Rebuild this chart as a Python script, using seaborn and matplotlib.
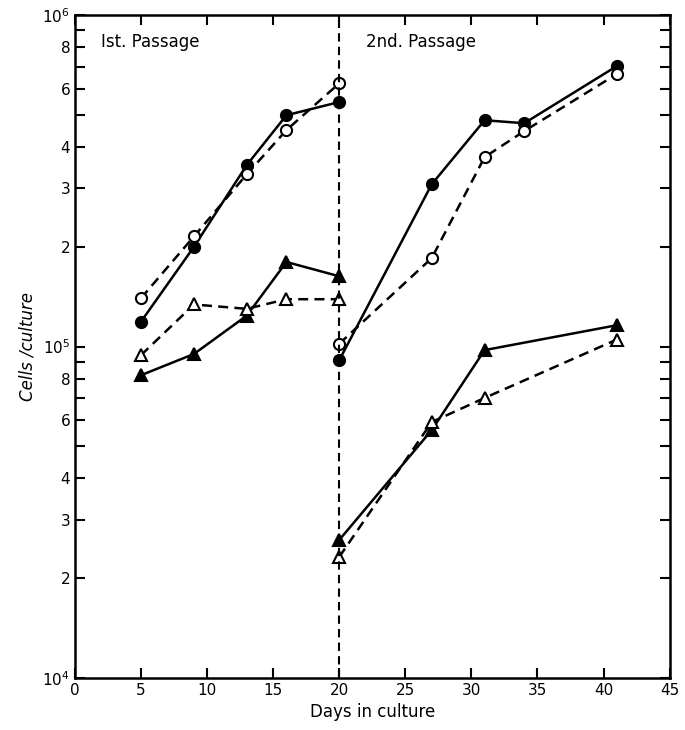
import matplotlib
matplotlib.use("Agg")
import matplotlib.pyplot as plt
import seaborn as sns
import pandas as pd
import numpy as np
from matplotlib.ticker import FixedLocator, FixedFormatter, NullFormatter

sns.set_style("ticks")
plt.rcParams['font.family'] = ['DejaVu Sans']
for k in ['text.color', 'axes.labelcolor', 'xtick.color', 'ytick.color', 'axes.edgecolor']:
    plt.rcParams[k] = 'black'

# ---- data ----
days_p1 = [5, 9, 13, 16, 20]
p1_filled_circle = [1.19e5, 2.0e5, 3.53e5, 4.99e5, 5.47e5]
p1_open_circle = [1.40e5, 2.15e5, 3.31e5, 4.50e5, 6.23e5]
p1_filled_tri = [8.2e4, 9.5e4, 1.24e5, 1.80e5, 1.63e5]
p1_open_tri = [9.43e4, 1.34e5, 1.30e5, 1.39e5, 1.39e5]

days_p2_circ = [20, 27, 31, 34, 41]
p2_filled_circle = [9.1e4, 3.09e5, 4.82e5, 4.72e5, 7.02e5]
p2_open_circle = [1.02e5, 1.85e5, 3.73e5, 4.47e5, 6.64e5]
days_p2_tri = [20, 27, 31, 41]
p2_filled_tri = [2.61e4, 5.6e4, 9.76e4, 1.16e5]
p2_open_tri = [2.32e4, 5.92e4, 7.0e4, 1.05e5]

passage_labels = ["Ist. Passage", "2nd. Passage"]
x_ticks = [0, 5, 10, 15, 20, 25, 30, 35, 40, 45]

fig = plt.figure(figsize=(6.85, 7.3), dpi=100)
ax = fig.add_axes([0.1095, 0.0712, 0.868, 0.908])

series = [
    (days_p1, p1_filled_circle, 'o', 'black', '-'),
    (days_p1, p1_open_circle, 'o', 'white', '--'),
    (days_p1, p1_filled_tri, '^', 'black', '-'),
    (days_p1, p1_open_tri, '^', 'white', '--'),
    (days_p2_circ, p2_filled_circle, 'o', 'black', '-'),
    (days_p2_circ, p2_open_circle, 'o', 'white', '--'),
    (days_p2_tri, p2_filled_tri, '^', 'black', '-'),
    (days_p2_tri, p2_open_tri, '^', 'white', '--'),
]
for xs, ys, mk, fc, ls in series:
    df = pd.DataFrame({"day": xs, "cells": ys})
    sns.lineplot(data=df, x="day", y="cells", ax=ax, color='black',
                 linewidth=1.8, marker=mk, markersize=8,
                 markerfacecolor=fc, markeredgecolor='black',
                 markeredgewidth=1.5, estimator=None, sort=False)
    ax.lines[-1].set_linestyle(ls)
    if ls == '--':
        ax.lines[-1].set_dashes((4, 2.5))

ax.axvline(20, color='black', linestyle=(0, (4, 2.5)), linewidth=1.5)

ax.set_yscale('log')
ax.set_xlim(0, 45)
ax.set_ylim(1e4, 1e6)

ax.set_xticks(x_ticks)
ax.set_xticklabels([str(t) for t in x_ticks], fontsize=11)

major = [1e4, 2e4, 3e4, 4e4, 6e4, 8e4, 1e5, 2e5, 3e5, 4e5, 6e5, 8e5, 1e6]
labels = [r'$10^4$', '2', '3', '4', '6', '8', r'$10^5$', '2', '3', '4', '6', '8', r'$10^6$']
minor = [5e4, 7e4, 9e4, 5e5, 7e5, 9e5]
ax.yaxis.set_major_locator(FixedLocator(major))
ax.yaxis.set_major_formatter(FixedFormatter(labels))
ax.yaxis.set_minor_locator(FixedLocator(minor))
ax.yaxis.set_minor_formatter(NullFormatter())
ax.tick_params(axis='y', which='major', labelsize=11)

ax.tick_params(axis='both', which='both', direction='in', length=7, width=1.5,
               top=True, right=True, labeltop=False, labelright=False)
for s in ax.spines.values():
    s.set_linewidth(1.8)
    s.set_color('black')

ax.set_xlabel("Days in culture", fontsize=12)
ax.set_ylabel("Cells /culture", fontsize=12, style='italic')

ax.text(2.0, 8.3e5, passage_labels[0], fontsize=12, ha='left', va='center')
ax.text(22.0, 8.3e5, passage_labels[1], fontsize=12, ha='left', va='center')

fig.savefig("out.png", dpi=100)
